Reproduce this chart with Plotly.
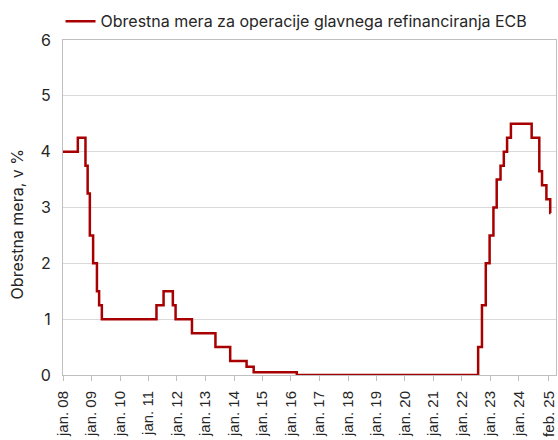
import plotly.graph_objects as go

# ECB main refinancing rate: change dates and new levels
change_dates = [
    "2008-01-01", "2008-07-09", "2008-10-15", "2008-11-12", "2008-12-10",
    "2009-01-21", "2009-03-11", "2009-04-08", "2009-05-13",
    "2011-04-13", "2011-07-13", "2011-11-09", "2011-12-14",
    "2012-07-11", "2013-05-08", "2013-11-13", "2014-06-11", "2014-09-10",
    "2016-03-16",
    "2022-07-27", "2022-09-14", "2022-11-02", "2022-12-21",
    "2023-02-08", "2023-03-22", "2023-05-10", "2023-06-21", "2023-08-02", "2023-09-20",
    "2024-06-12", "2024-09-18", "2024-10-23", "2024-12-18",
    "2025-02-05", "2025-02-10",
]
rates = [
    4.00, 4.25, 3.75, 3.25, 2.50,
    2.00, 1.50, 1.25, 1.00,
    1.25, 1.50, 1.25, 1.00,
    0.75, 0.50, 0.25, 0.15, 0.05,
    0.00,
    0.50, 1.25, 2.00, 2.50,
    3.00, 3.50, 3.75, 4.00, 4.25, 4.50,
    4.25, 3.65, 3.40, 3.15,
    2.90, 2.90,
]

tick_dates = [f"{y}-01-01" for y in range(2008, 2025)] + ["2025-01-20"]
tick_labels = [f"jan. {str(y)[2:]}" for y in range(2008, 2025)] + ["feb. 25"]

series_name = "Obrestna mera za operacije glavnega refinanciranja ECB"
y_title = "Obrestna mera, v %"

FONT = "Inter, Noto Sans, sans-serif"
AXFONT = "Liberation Sans, Arial, sans-serif"

fig = go.Figure()
fig.add_trace(go.Scatter(
    x=change_dates, y=rates, mode="lines", line_shape="hv",
    line=dict(color="#A80000", width=2.5), name=series_name, showlegend=True,
))

fig.update_layout(
    width=558, height=440,
    margin=dict(l=63, r=2, t=40, b=65, autoexpand=False),
    paper_bgcolor="white", plot_bgcolor="white",
    font=dict(family=FONT, size=16, color="#262626"),
    showlegend=True,
    legend=dict(
        orientation="h", x=-0.005, xanchor="left", y=1.005, yanchor="bottom",
        font=dict(size=16, color="#262626"), bgcolor="rgba(0,0,0,0)",
        borderwidth=0, itemwidth=30,
    ),
    xaxis=dict(
        type="date", range=["2008-01-01", "2025-04-20"],
        tickmode="array", tickvals=tick_dates, ticktext=tick_labels,
        tickangle=-90, ticks="outside", ticklen=5, tickcolor="#bfbfbf",
        ticklabelstandoff=4,
        showgrid=False, showline=True, linecolor="#bfbfbf", linewidth=1,
        mirror=True, tickfont=dict(family=AXFONT, size=15, color="#262626"),
        zeroline=False, automargin=False,
    ),
    yaxis=dict(
        range=[0, 6], dtick=1, tickformat="d",
        showgrid=True, gridcolor="#d9d9d9", gridwidth=1,
        showline=True, linecolor="#bfbfbf", linewidth=1, mirror=True,
        ticks="", ticklabelstandoff=8,
        tickfont=dict(family=FONT, size=16, color="#262626"),
        zeroline=False, automargin=False,
    ),
    annotations=[dict(
        text=y_title, textangle=-90, xref="paper", yref="paper",
        x=-0.093, y=0.45, xanchor="center", yanchor="middle", showarrow=False,
        font=dict(size=16, color="#262626"),
    )],
)

fig.write_html("out.html", config={"displayModeBar": False},
               post_script="document.body.style.margin='0';")
